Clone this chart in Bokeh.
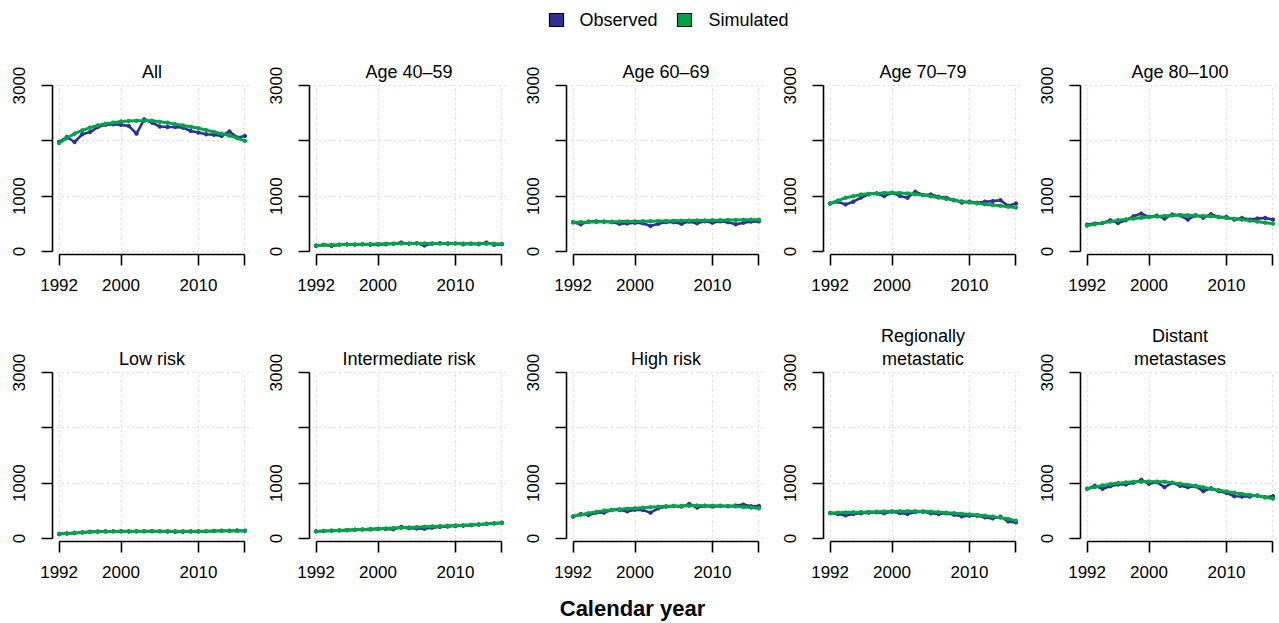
from bokeh.plotting import figure
from bokeh.models import Range1d, FixedTicker, Title
from bokeh.layouts import column, row
from bokeh.embed import file_html
from bokeh.resources import INLINE
from bokeh.core.properties import value

years = list(range(1992, 2017))

panel_titles = [
    ["All"], ["Age 40\u201359"], ["Age 60\u201369"], ["Age 70\u201379"], ["Age 80\u2013100"],
    ["Low risk"], ["Intermediate risk"], ["High risk"], ["Regionally", "metastatic"], ["Distant", "metastases"],
]

obs_all = [1980, 2070, 1980, 2120, 2160, 2250, 2290, 2300, 2290, 2270, 2130, 2390, 2330, 2260, 2250,
           2250, 2240, 2180, 2150, 2120, 2110, 2090, 2170, 2060, 2090]
sim_all = [1960, 2050, 2130, 2190, 2240, 2280, 2310, 2330, 2350, 2360, 2365, 2365, 2365, 2345, 2330,
           2300, 2280, 2255, 2230, 2195, 2160, 2130, 2095, 2050, 2000]

obs_40_59 = [100, 120, 100, 120, 130, 120, 130, 120, 125, 130, 140, 160, 140, 150, 110,
             140, 150, 140, 145, 130, 140, 130, 160, 120, 130]
sim_40_59 = [110, 115, 118, 122, 125, 128, 130, 132, 135, 138, 140, 142, 143, 144, 145,
             145, 145, 144, 143, 142, 140, 140, 139, 138, 137]

obs_60_69 = [530, 490, 540, 545, 540, 530, 500, 505, 520, 510, 460, 500, 530, 530, 500,
             540, 510, 545, 520, 545, 530, 490, 520, 540, 545]
sim_60_69 = [527, 530, 533, 535, 537, 539, 540, 542, 544, 546, 548, 550, 552, 554, 556,
             558, 560, 562, 564, 566, 568, 570, 572, 574, 575]

obs_70_79 = [867, 900, 850, 900, 975, 1035, 1050, 1000, 1060, 1005, 970, 1080, 1020, 1030, 990,
             970, 930, 885, 900, 880, 900, 910, 927, 825, 867]
sim_70_79 = [867, 920, 970, 1000, 1030, 1042, 1050, 1056, 1060, 1056, 1050, 1036, 1020, 998, 975,
             951, 927, 906, 885, 870, 855, 840, 825, 810, 795]

obs_80_100 = [485, 503, 515, 564, 515, 564, 636, 685, 624, 648, 594, 667, 655, 576, 655,
              612, 673, 624, 624, 576, 606, 576, 594, 606, 576]
sim_80_100 = [467, 492, 516, 540, 564, 580, 595, 610, 624, 633, 642, 651, 660, 654, 648,
              642, 636, 621, 606, 591, 576, 558, 540, 521, 503]

obs_low = [80, 90, 100, 110, 120, 125, 130, 130, 130, 125, 130, 130, 135, 130, 125,
           120, 120, 125, 125, 130, 135, 140, 140, 145, 140]
sim_low = [80, 90, 100, 108, 115, 120, 125, 128, 130, 131, 132, 132, 132, 131, 130,
           130, 130, 130, 131, 132, 133, 134, 135, 136, 137]

obs_int = [130, 135, 140, 145, 150, 155, 160, 165, 170, 170, 165, 210, 185, 180, 175,
           195, 210, 215, 225, 230, 240, 250, 265, 275, 285]
sim_int = [127, 133, 139, 145, 151, 157, 163, 169, 175, 181, 187, 193, 199, 205, 211,
           217, 223, 229, 235, 241, 247, 254, 262, 270, 278]

obs_high = [394, 442, 424, 467, 467, 515, 515, 490, 521, 515, 467, 545, 576, 588, 576,
            624, 560, 588, 576, 588, 582, 594, 612, 582, 588]
sim_high = [400, 428, 455, 480, 503, 515, 527, 536, 545, 555, 564, 573, 582, 585, 588,
            591, 594, 593, 592, 590, 588, 580, 570, 558, 545]

obs_reg = [460, 442, 418, 442, 455, 467, 473, 455, 485, 460, 442, 479, 485, 455, 442,
           455, 430, 400, 412, 412, 382, 364, 394, 309, 291]
sim_reg = [460, 464, 468, 472, 476, 480, 484, 487, 490, 491, 491, 490, 488, 482, 475,
           466, 456, 446, 435, 423, 410, 395, 377, 352, 322]

obs_dist = [897, 952, 897, 945, 976, 976, 1006, 1060, 988, 1018, 927, 1006, 952, 927, 945,
            855, 909, 855, 824, 764, 758, 758, 776, 745, 764]
sim_dist = [897, 928, 958, 980, 1000, 1012, 1024, 1028, 1030, 1027, 1024, 1006, 988, 970, 952,
            925, 897, 873, 848, 827, 806, 788, 770, 746, 721]

observed = [obs_all, obs_40_59, obs_60_69, obs_70_79, obs_80_100,
            obs_low, obs_int, obs_high, obs_reg, obs_dist]
simulated = [sim_all, sim_40_59, sim_60_69, sim_70_79, sim_80_100,
             sim_low, sim_int, sim_high, sim_reg, sim_dist]

x_ticks = [1992, 2000, 2010, 2016]
x_tick_labels = {2016: ""}
y_ticks = [0, 1000, 2000, 3000]
y_tick_labels = {2000: ""}

legend_labels = ["Observed", "Simulated"]
OBS_COLOR = "#2E3192"
SIM_COLOR = "#00A14B"
FONT = "Liberation Sans"


def make_panel(idx):
    r, c = divmod(idx, 5)
    last = c == 4
    width = 251 if last else 257
    if r == 0:
        height, btop, bbot = 274, 36, 68
    else:
        height, btop, bbot = 268, 49, 49
    p = figure(width=width, height=height, output_backend="svg", toolbar_location=None,
               x_range=Range1d(1991.15, 2016.85), y_range=Range1d(-55, 3020),
               min_border_left=52, min_border_right=0 if last else 6,
               min_border_top=btop, min_border_bottom=bbot,
               outline_line_color=None, background_fill_color="white",
               border_fill_color="white")
    lines = panel_titles[idx]
    for line in reversed(lines):
        p.add_layout(Title(text=line, align="center", text_font_size="18px",
                           text_font=FONT, text_font_style="normal",
                           text_color="black",
                           standoff=6 if line == lines[-1] else -4),
                     "above")
    xa = p.xaxis[0]
    xa.ticker = FixedTicker(ticks=x_ticks)
    xa.major_label_overrides = x_tick_labels
    xa.bounds = (1992, 2016)
    ya = p.yaxis[0]
    ya.ticker = FixedTicker(ticks=y_ticks)
    ya.major_label_overrides = y_tick_labels
    ya.bounds = (0, 3000)
    ya.major_label_orientation = "vertical"
    for ax in (xa, ya):
        ax.minor_tick_line_color = None
        ax.major_tick_in = 0
        ax.major_tick_out = 11
        ax.axis_line_width = 1.6
        ax.major_tick_line_width = 1.6
        ax.axis_line_color = "black"
        ax.major_tick_line_color = "black"
        ax.major_label_text_font = FONT
        ax.major_label_text_font_size = "17px"
        ax.major_label_text_color = "black"
    xa.major_label_standoff = 13
    ya.major_label_standoff = 16
    p.xgrid.ticker = FixedTicker(ticks=x_ticks)
    p.ygrid.ticker = FixedTicker(ticks=y_ticks)
    for g in (p.xgrid[0], p.ygrid[0]):
        g.grid_line_color = "#BDBDBD"
        g.grid_line_dash = "1 4"
        g.grid_line_width = 1.2
    p.line(years, observed[idx], line_color=OBS_COLOR, line_width=2.6)
    p.scatter(years, observed[idx], size=3.5, color=OBS_COLOR)
    p.line(years, simulated[idx], line_color=SIM_COLOR, line_width=3)
    p.scatter(years, simulated[idx], size=3.5, color=SIM_COLOR)
    return p


panels = [make_panel(i) for i in range(10)]

# legend strip
leg = figure(width=1279, height=48, output_backend="svg", toolbar_location=None,
             x_range=Range1d(0, 1279), y_range=Range1d(0, 48),
             min_border=0, outline_line_color=None)
leg.axis.visible = False
leg.grid.visible = False
leg.rect(x=[556, 684], y=[28.5, 28.5], width=14, height=13,
         width_units="screen", height_units="screen",
         fill_color=[OBS_COLOR, SIM_COLOR], line_color="black", line_width=1.2)
leg.text(x=[579, 708], y=[28.5, 28.5], text=legend_labels,
         text_font=value(FONT), text_font_size="18px",
         text_baseline="middle", text_align="left", text_color="black")

# x label strip
xl = figure(width=1279, height=33, output_backend="svg", toolbar_location=None,
            x_range=Range1d(0, 1279), y_range=Range1d(0, 33),
            min_border=0, outline_line_color=None)
xl.axis.visible = False
xl.grid.visible = False
xl.text(x=[632], y=[15], text=["Calendar year"], text_font=value(FONT),
        text_font_size="22px", text_font_style="bold",
        text_baseline="middle", text_align="center", text_color="black")

layout = column(leg, row(*panels[:5]), row(*panels[5:]), xl)
open("out.html", "w").write(file_html(layout, INLINE))
